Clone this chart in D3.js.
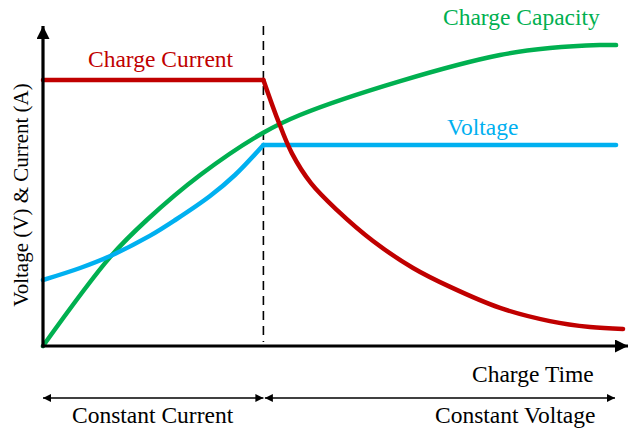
<!DOCTYPE html>
<html><head><meta charset="utf-8">
<script src="https://cdn.jsdelivr.net/npm/d3@7"></script>
<style>html,body{margin:0;padding:0;background:#fff;}svg{display:block;}</style>
</head><body>
<svg id="c" width="628" height="430"></svg>
<script>
// ---- data (time 0..100, level 0..100, arbitrary units) ----
const cvStart = 38;
const currentCCTime = [0, 38];
const currentCCVal = [88.7, 88.7];
const currentCVTime = [38, 40.5, 42.9, 46.2, 50.7, 56.9, 63.8, 70.2, 78.8, 87.4, 94.3, 100];
const currentCVVal  = [88.7, 75.3, 64.3, 54.3, 45.3, 35, 26, 19.7, 12.7, 8.3, 6.3, 5.7];
const voltageCCTime = [0, 6.4, 11.6, 18.4, 22.8, 28.8, 33.1, 38];
const voltageCCVal  = [22, 26, 30, 36.7, 42, 50, 57, 67];
const voltageCVTime = [38, 98.8];
const voltageCVVal  = [67, 67];
const capacityTime = [0, 11.6, 17.9, 27.1, 37.9, 44.3, 61.6, 78.8, 87.4, 96, 98.8];
const capacityVal  = [0, 29.7, 42, 57, 71, 77, 88.3, 97, 99.3, 100.3, 100.3];
const seriesLabels = ["Charge Current", "Voltage", "Charge Capacity"];
const axisLabels = ["Charge Time", "Voltage (V) & Current (A)"];
const phaseLabels = ["Constant Current", "Constant Voltage"];

const colors = {current: "#c00000", voltage: "#00b0f0", capacity: "#00b050"};
const font = "'Liberation Serif','Times New Roman',serif";

const svg = d3.select("#c");
const x = d3.scaleLinear().domain([0, 100]).range([43, 623]);
const y = d3.scaleLinear().domain([0, 100]).range([346, 46]);

const defs = svg.append("defs");
function marker(id, w, h) {
  defs.append("marker").attr("id", id).attr("viewBox", "0 0 10 10")
    .attr("refX", 10).attr("refY", 5).attr("markerUnits", "userSpaceOnUse")
    .attr("markerWidth", w).attr("markerHeight", h).attr("orient", "auto-start-reverse")
    .append("path").attr("d", "M0,0 L10,5 L0,10 Z").attr("fill", "#000");
}
marker("bigArrow", 14, 13);
marker("smallArrow", 11, 8);

const zip = (ts, vs) => ts.map((t, i) => [t, vs[i]]);
const lineLin = d3.line().x(d => x(d[0])).y(d => y(d[1]));
const lineCurve = d3.line().x(d => x(d[0])).y(d => y(d[1])).curve(d3.curveCatmullRom.alpha(0.5));

// dashed phase divider
svg.append("line").attr("x1", x(cvStart)).attr("x2", x(cvStart))
  .attr("y1", 26).attr("y2", y(0) - 4)
  .attr("stroke", "#000").attr("stroke-width", 1.6).attr("stroke-dasharray", "9,6");

// series
function draw(data, color, curved) {
  svg.append("path").datum(data).attr("d", curved ? lineCurve : lineLin)
    .attr("fill", "none").attr("stroke", color).attr("stroke-width", 4.5)
    .attr("stroke-linejoin", "round").attr("stroke-linecap", "round");
}
draw(zip(capacityTime, capacityVal), colors.capacity, true);
draw(zip(voltageCCTime, voltageCCVal), colors.voltage, true);
draw(zip(voltageCVTime, voltageCVVal), colors.voltage, false);
draw(zip(currentCCTime, currentCCVal), colors.current, false);
draw(zip(currentCVTime, currentCVVal), colors.current, true);

// axes
svg.append("line").attr("x1", x(0)).attr("y1", y(0) + 1.5).attr("x2", x(0)).attr("y2", 26)
  .attr("stroke", "#000").attr("stroke-width", 3.2).attr("marker-end", "url(#bigArrow)");
svg.append("line").attr("x1", x(0) - 1.5).attr("y1", y(0)).attr("x2", 628).attr("y2", y(0))
  .attr("stroke", "#000").attr("stroke-width", 3.2).attr("marker-end", "url(#bigArrow)");

// phase double arrows
const arrY = 398;
svg.append("line").attr("x1", x(0)).attr("x2", x(cvStart)).attr("y1", arrY).attr("y2", arrY)
  .attr("stroke", "#000").attr("stroke-width", 1.3)
  .attr("marker-start", "url(#smallArrow)").attr("marker-end", "url(#smallArrow)");
svg.append("line").attr("x1", x(cvStart) + 1.5).attr("x2", 615).attr("y1", arrY).attr("y2", arrY)
  .attr("stroke", "#000").attr("stroke-width", 1.3)
  .attr("marker-start", "url(#smallArrow)").attr("marker-end", "url(#smallArrow)");

// texts
function txt(s, px, py, color, anchor) {
  return svg.append("text").attr("x", px).attr("y", py).text(s)
    .attr("font-family", font).attr("font-size", 23.5).attr("fill", color)
    .attr("text-anchor", anchor || "start");
}
txt(seriesLabels[0], 88, 67, colors.current);
txt(seriesLabels[1], 447, 135, colors.voltage);
txt(seriesLabels[2], 443, 25, colors.capacity);
txt(axisLabels[0], 472, 382, "#000");
txt(phaseLabels[0], 72, 423, "#000");
txt(phaseLabels[1], 435, 423, "#000");
svg.append("text").attr("transform", "translate(28,195) rotate(-90)")
  .attr("text-anchor", "middle").attr("font-family", font).attr("font-size", 21)
  .attr("fill", "#000").text(axisLabels[1]);
</script>
</body></html>
